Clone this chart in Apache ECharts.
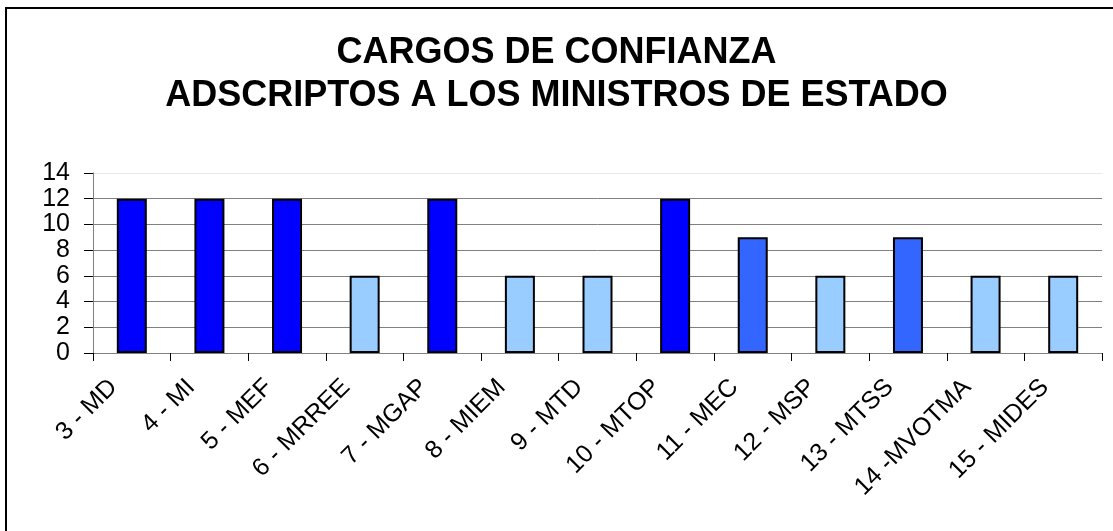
<!DOCTYPE html>
<html>
<head>
<meta charset="utf-8">
<script src="https://cdn.jsdelivr.net/npm/echarts@6/dist/echarts.min.js"></script>
<style>
  html, body { margin: 0; padding: 0; background: #fff; }
  #chartMain { width: 1113px; height: 531px; }
</style>
</head>
<body>
<div id="chartMain"></div>
<script>
var categories = ['3 - MD', '4 - MI', '5 - MEF', '6 - MRREE', '7 - MGAP', '8 - MIEM', '9 - MTD',
  '10 - MTOP', '11 - MEC', '12 - MSP', '13 - MTSS', '14 -MVOTMA', '15 - MIDES'];
var cargos = [12, 12, 12, 6, 12, 6, 6, 12, 9, 6, 9, 6, 6];
var yTicks = [0, 2, 4, 6, 8, 10, 12, 14];

var myChart = echarts.init(document.getElementById('chartMain'));

// color depende del valor: 12 azul fuerte, 9 azul medio, 6 celeste
function barColor(p) {
  if (p.value >= 12) return '#0000FF';
  if (p.value >= 9) return '#3366FF';
  return '#99CCFF';
}

// la linea de arriba (14) sale casi blanca en el original
var gridColors = yTicks.map(function(v, i) {
  return i === yTicks.length - 1 ? '#e8e8e8' : '#808080';
});

var option = {
  animation: false,
  backgroundColor: '#fff',
  title: {
    text: 'CARGOS DE CONFIANZA\nADSCRIPTOS A LOS MINISTROS DE ESTADO',
    left: 'center',
    top: 27,
    textStyle: {
      fontFamily: 'Liberation Sans, Arial',
      fontWeight: 'bold',
      fontSize: 36,
      lineHeight: 43,
      color: '#000'
    }
  },
  graphic: [{
    type: 'rect',
    shape: { x: 6, y: 8, width: 1200, height: 600 },
    style: { fill: 'none', stroke: '#000', lineWidth: 2 },
    silent: true
  }],
  grid: { left: 93, right: 11, top: 173, bottom: 178 },
  xAxis: {
    type: 'category',
    data: categories,
    axisLine: { lineStyle: { color: '#808080', width: 1 } },
    axisTick: { show: true, length: 8, lineStyle: { color: '#000' } },
    axisLabel: {
      rotate: 45,
      margin: 12,
      padding: [0, 26, 0, 0],
      fontFamily: 'Liberation Sans, Arial',
      fontSize: 25,
      color: '#000',
      interval: 0
    }
  },
  yAxis: {
    type: 'value',
    min: yTicks[0],
    max: yTicks[yTicks.length - 1],
    interval: 2,
    axisLine: { show: true, lineStyle: { color: '#808080' } },
    axisTick: { show: true, length: 9, lineStyle: { color: '#000' } },
    axisLabel: {
      margin: 23,
      fontFamily: 'Liberation Sans, Arial',
      fontSize: 25,
      color: '#000'
    },
    splitLine: { lineStyle: { color: gridColors, width: 1 } }
  },
  series: [{
    type: 'bar',
    data: cargos,
    barWidth: 30,
    itemStyle: {
      color: barColor,
      borderColor: '#000',
      borderWidth: 2
    }
  }]
};

myChart.setOption(option);
</script>
</body>
</html>
